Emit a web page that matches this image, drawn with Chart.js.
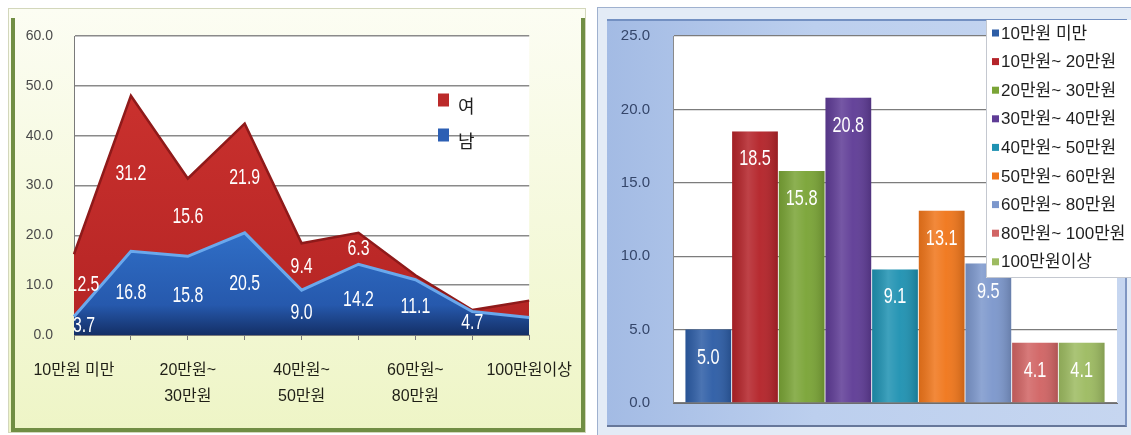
<!DOCTYPE html>
<html lang="ko">
<head>
<meta charset="utf-8">
<title>월평균 소득 분포</title>
<script src="https://cdn.jsdelivr.net/npm/chart.js@4.4.1/dist/chart.umd.min.js"></script>
<style>
  html, body { margin: 0; padding: 0; background: #fff; }
  body { position: relative; width: 1131px; height: 435px; overflow: hidden; }
  .box { position: absolute; box-sizing: border-box; }
  #gender-panel {
    left: 8px; top: 8px; width: 578px; height: 425px;
    background: linear-gradient(#fcfdf3, #eef5c6);
    border: 1px solid #d3d7bb;
  }
  #gender-frame {
    left: 11px; top: 18px; width: 574px; height: 414px;
    border: 4px solid #718e44; border-top: 0;
  }
  #income-panel {
    left: 597px; top: 7px; width: 534px; height: 428px;
    background: #e3ebf6;
    border-left: 1px solid #9fb1cf; border-top: 1px solid #9fb1cf;
  }
  #income-inner {
    left: 607px; top: 19px; width: 520px; height: 408px;
    background: linear-gradient(to right, #a3bbe4, #bccfee 40%, #c6d6f0);
    border-top: 2px solid #7390c2; border-right: 2px solid #7f96c2; border-bottom: 2px solid #66779a;
  }
  canvas { position: absolute; top: 0; }
  #gender-chart { left: 0; }
  #income-chart { left: 596px; }
</style>
</head>
<body>
<div class="box" id="gender-panel"></div>
<div class="box" id="gender-frame"></div>
<div class="box" id="income-panel"></div>
<div class="box" id="income-inner"></div>
<canvas id="gender-chart" width="590" height="435"></canvas>
<canvas id="income-chart" width="535" height="435"></canvas>
<script>
const FONT = "'Liberation Sans', 'Noto Sans CJK KR', sans-serif";

// 소득 구간
const brackets = ['10만원 미만', '10만원~ 20만원', '20만원~ 30만원', '30만원~ 40만원', '40만원~ 50만원',
  '50만원~ 60만원', '60만원~ 80만원', '80만원~ 100만원', '100만원이상'];
const bracketTicks = [['10만원 미만'], '', ['20만원~', '30만원'], '', ['40만원~', '50만원'], '',
  ['60만원~', '80만원'], '', ['100만원이상']];

// 성별 분포 (%)
const maleShare = [3.7, 16.8, 15.8, 20.5, 9.0, 14.2, 11.1, 4.7, 3.5];
const femaleShare = [12.5, 31.2, 15.6, 21.9, 9.4, 6.3, 0.9, 0.3, 3.4];
const genderTicks = [0, 10, 20, 30, 40, 50, 60];

// 전체 분포 (%)
const incomeShare = [5.0, 18.5, 15.8, 20.8, 9.1, 13.1, 9.5, 4.1, 4.1];
const incomeTicks = [0, 5, 10, 15, 20, 25];
const barColors = ['#2d5da6', '#b42329', '#7aa436', '#5f3c96', '#1f92b2', '#f0761b', '#7c97cc', '#d16464', '#9dbb61'];

const plotBackground = {
  id: 'plotBackground',
  beforeDraw(chart) {
    const { ctx, chartArea: a } = chart;
    ctx.save();
    ctx.fillStyle = '#ffffff';
    ctx.fillRect(a.left, a.top, a.right - a.left, a.bottom - a.top);
    ctx.restore();
  },
};

const barSheen = {
  id: 'barSheen',
  afterDatasetsDraw(chart) {
    const { ctx } = chart;
    chart.data.datasets.forEach((_d, di) => {
      chart.getDatasetMeta(di).data.forEach((bar) => {
        const left = bar.x - bar.width / 2;
        const g = ctx.createLinearGradient(left, 0, left + bar.width, 0);
        g.addColorStop(0, 'rgba(0,0,0,0.10)');
        g.addColorStop(0.35, 'rgba(255,255,255,0.14)');
        g.addColorStop(0.6, 'rgba(255,255,255,0.04)');
        g.addColorStop(1, 'rgba(0,0,0,0.16)');
        ctx.save();
        ctx.fillStyle = g;
        ctx.fillRect(left, bar.y, bar.width, bar.base - bar.y);
        ctx.restore();
      });
    });
  },
};

const valueLabels = {
  id: 'valueLabels',
  afterDatasetsDraw(chart, _args, opts) {
    const { ctx, chartArea: a } = chart;
    const zero = chart.scales.y.getPixelForValue(0);
    ctx.save();
    ctx.beginPath();
    ctx.rect(a.left, a.top, a.right - a.left, a.bottom - a.top);
    ctx.clip();
    ctx.fillStyle = '#ffffff';
    ctx.font = `${opts.size}px ${FONT}`;
    ctx.textAlign = 'center';
    ctx.textBaseline = 'middle';
    chart.data.datasets.forEach((dataset, di) => {
      const skip = (opts.skip && opts.skip[di]) || [];
      chart.getDatasetMeta(di).data.forEach((el, i) => {
        if (skip.includes(i)) return;
        let x = el.x;
        let y;
        if (opts.stacked) {
          const below = di > 0 ? chart.getDatasetMeta(di - 1).data[i].y : zero;
          y = (el.y + below) / 2;
          if (i === 0) x += opts.edgeShift;
        } else {
          y = el.y + opts.inset;
        }
        ctx.save();
        ctx.translate(x, y);
        ctx.scale(opts.squeeze, 1);
        ctx.fillText(dataset.data[i].toFixed(1), 0, 0);
        ctx.restore();
      });
    });
    ctx.restore();
  },
};

const keyLegend = {
  id: 'keyLegend',
  afterDraw(chart, _args, opts) {
    const { ctx } = chart;
    const items = chart.data.datasets.map((d) => ({ text: d.label, color: d.swatch }));
    if (opts.reverse) items.reverse();
    ctx.save();
    if (opts.panel) {
      const [px, py, pw, ph] = opts.panel;
      ctx.fillStyle = '#ffffff';
      ctx.fillRect(px, py, pw, ph);
      ctx.strokeStyle = '#c4c8d0';
      ctx.lineWidth = 1;
      ctx.beginPath();
      ctx.moveTo(px + 0.5, py);
      ctx.lineTo(px + 0.5, py + ph - 0.5);
      ctx.lineTo(px + pw, py + ph - 0.5);
      ctx.stroke();
    }
    ctx.font = `${opts.size}px ${FONT}`;
    ctx.textAlign = 'left';
    ctx.textBaseline = 'middle';
    items.forEach((item, i) => {
      const cy = opts.y + i * opts.gap;
      const [mw, mh] = opts.mark;
      ctx.fillStyle = item.color;
      ctx.fillRect(opts.x, cy - mh / 2, mw, mh);
      ctx.fillStyle = '#1e1e1e';
      ctx.fillText(item.text, opts.x + mw + opts.textGap, cy + opts.textDrop);
    });
    ctx.restore();
  },
};

const verticalFill = (stops) => (context) => {
  const { ctx, chartArea } = context.chart;
  if (!chartArea) return stops[0][1];
  const g = ctx.createLinearGradient(0, chartArea.top, 0, chartArea.bottom);
  stops.forEach(([at, color]) => g.addColorStop(at, color));
  return g;
};

new Chart(document.getElementById('gender-chart'), {
  type: 'line',
  data: {
    labels: brackets,
    datasets: [
      {
        label: '남',
        data: maleShare,
        swatch: '#2c5fb4',
        fill: 'origin',
        backgroundColor: verticalFill([[0, '#4590e2'], [0.6, '#3273cc'], [0.9, '#2659ad'], [1, '#142f66']]),
        borderColor: '#6aa8ec',
        borderWidth: 3,
      },
      {
        label: '여',
        data: femaleShare,
        swatch: '#bb2a2a',
        fill: '-1',
        backgroundColor: verticalFill([[0, '#cf3430'], [1, '#b42424']]),
        borderColor: '#8f1a1a',
        borderWidth: 2.5,
      },
    ],
  },
  options: {
    responsive: false,
    devicePixelRatio: 1,
    animation: false,
    layout: { padding: { top: 36, right: 54, bottom: 0, left: 0 } },
    elements: { line: { tension: 0 }, point: { radius: 0 } },
    plugins: {
      legend: { display: false },
      tooltip: { enabled: false },
      valueLabels: { stacked: true, size: 22, squeeze: 0.72, edgeShift: 10, skip: [[8], [6, 7, 8]] },
      keyLegend: { x: 438, y: 100, gap: 35, mark: [11, 13], size: 18, textGap: 9, textDrop: 8, reverse: true },
    },
    scales: {
      x: {
        offset: false,
        grid: { display: true, drawOnChartArea: false, drawTicks: true, tickLength: 5, color: '#7a7a7a' },
        border: { display: true, color: '#7a7a7a' },
        ticks: {
          autoSkip: false,
          maxRotation: 0,
          padding: 18,
          color: '#1f1f16',
          font: { family: FONT, size: 16, lineHeight: '26px' },
          callback: (_v, i) => bracketTicks[i],
        },
        afterFit: (scale) => { scale.height = 100; },
      },
      y: {
        stacked: true,
        min: 0,
        max: 60,
        afterBuildTicks: (scale) => { scale.ticks = genderTicks.map((value) => ({ value })); },
        grid: { color: '#8a8a8a', lineWidth: 1.5, drawTicks: false },
        border: { display: true, color: '#7a7a7a' },
        ticks: {
          padding: 21,
          color: '#4a4a4a',
          font: { family: FONT, size: 14 },
          callback: (v) => Number(v).toFixed(1),
        },
        afterFit: (scale) => { scale.width = 74; },
      },
    },
  },
  plugins: [plotBackground, valueLabels, keyLegend],
});

new Chart(document.getElementById('income-chart'), {
  type: 'bar',
  data: {
    labels: [''],
    datasets: brackets.map((label, i) => ({
      label,
      data: [incomeShare[i]],
      swatch: barColors[i],
      backgroundColor: barColors[i],
    })),
  },
  options: {
    responsive: false,
    devicePixelRatio: 1,
    animation: false,
    layout: { padding: { top: 36, right: 14, bottom: 24, left: 0 } },
    datasets: { bar: { categoryPercentage: 0.946, barPercentage: 0.98 } },
    plugins: {
      legend: { display: false },
      tooltip: { enabled: false },
      valueLabels: { stacked: false, size: 22, squeeze: 0.74, inset: 28 },
      keyLegend: { x: 396, y: 33, gap: 28.6, mark: [7, 7], size: 17, textGap: 2, textDrop: 1, panel: [390, 20, 145, 258] },
    },
    scales: {
      x: {
        ticks: { display: false },
        grid: { display: false },
        border: { display: true, color: '#6e6e6e' },
        afterFit: (scale) => { scale.height = 0; },
      },
      y: {
        min: 0,
        max: 25,
        afterBuildTicks: (scale) => { scale.ticks = incomeTicks.map((value) => ({ value })); },
        grid: { color: '#7c7c7c', lineWidth: 1.3, drawTicks: false },
        border: { display: true, color: '#8a8a8a' },
        ticks: {
          padding: 23,
          color: '#35466a',
          font: { family: FONT, size: 15 },
          callback: (v) => Number(v).toFixed(1),
        },
        afterFit: (scale) => { scale.width = 77; },
      },
    },
  },
  plugins: [plotBackground, barSheen, valueLabels, keyLegend],
});
</script>
</body>
</html>
